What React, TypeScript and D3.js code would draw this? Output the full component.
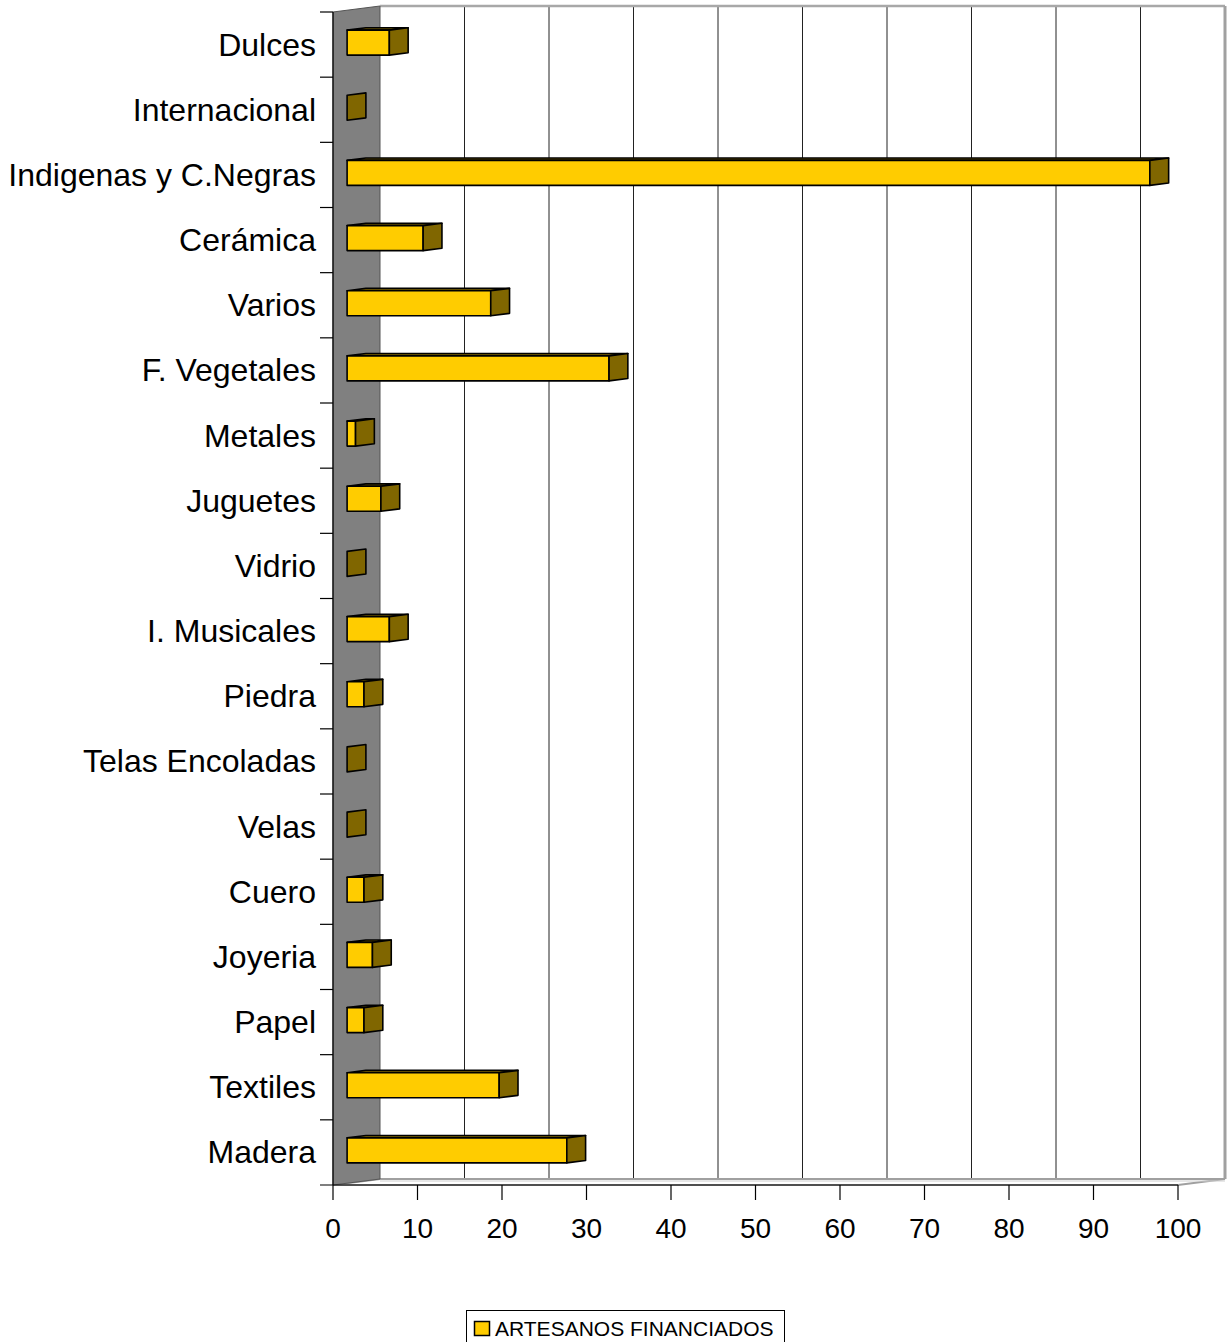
import React from 'react';
import * as d3 from 'd3';

const categories = [
  'Dulces', 'Internacional', 'Indigenas y C.Negras', 'Cerámica', 'Varios',
  'F. Vegetales', 'Metales', 'Juguetes', 'Vidrio', 'I. Musicales', 'Piedra',
  'Telas Encoladas', 'Velas', 'Cuero', 'Joyeria', 'Papel', 'Textiles', 'Madera',
];
const artesanos = [5, 0, 95, 9, 17, 31, 1, 4, 0, 5, 2, 0, 0, 2, 3, 2, 18, 26];
const xTicks = [0, 10, 20, 30, 40, 50, 60, 70, 80, 90, 100];
const seriesName = 'ARTESANOS FINANCIADOS';

const W = 1228;
const H = 1342;
const YELLOW = '#FFCC00';
const DARK = '#806600';
const WALL = '#808080';

// 3D offsets: full depth of the plot box
const DEPTH_X = 47;
const DEPTH_Y = -6;

const App: React.FC = () => {
  const x = d3.scaleLinear().domain([0, 100]).range([333, 1178]);
  const y = d3.scaleBand<string>().domain(categories).range([12, 1185]);

  const px = (v: number, t: number) => x(v) + DEPTH_X * t;
  const py = (yy: number, t: number) => yy + DEPTH_Y * t;

  const top = 12;
  const bottom = 1185;
  const back = (v: number) => px(v, 1);

  const pts = (p: [number, number][]) => p.map(d => d.join(',')).join(' ');

  const t0 = 0.3;
  const t1 = 0.7;
  const barH = 25;
  const font = 'Arial, "Liberation Sans", Helvetica, sans-serif';

  return (
    <svg width={W} height={H} viewBox={`0 0 ${W} ${H}`}
      style={{ position: 'absolute', left: 0, top: 0, background: '#fff' }}>
      {/* back wall */}
      <rect x={back(0)} y={py(top, 1)} width={back(100) - back(0)} height={py(bottom, 1) - py(top, 1)} fill="#fff" />
      {xTicks.slice(1, -1).map(v => (
        <line key={v} x1={back(v)} x2={back(v)} y1={py(top, 1)} y2={py(bottom, 1)} stroke="#222" strokeWidth={1} />
      ))}
      <line x1={back(0)} x2={back(100)} y1={py(top, 1)} y2={py(top, 1)} stroke="#a8a8a8" strokeWidth={2.5} />
      <line x1={back(100)} x2={back(100)} y1={py(top, 1)} y2={py(bottom, 1)} stroke="#a0a0a0" strokeWidth={3} />

      {/* floor */}
      <polygon
        points={pts([[x(0), bottom], [back(0), py(bottom, 1)], [back(100), py(bottom, 1)], [x(100), bottom]])}
        fill="#fff" stroke="#a0a0a0" strokeWidth={2} />
      <line x1={back(0)} x2={back(100)} y1={py(bottom, 1) + 2} y2={py(bottom, 1) + 2} stroke="#d0d0d0" strokeWidth={1} />

      {/* side wall */}
      <polygon
        points={pts([[x(0), top], [back(0), py(top, 1)], [back(0), py(bottom, 1)], [x(0), bottom]])}
        fill={WALL} stroke="#555" strokeWidth={1} />

      {/* bars */}
      {categories.map((c, i) => {
        const v = artesanos[i];
        const cy = (y(c) || 0) + y.bandwidth() / 2 - 2;
        const yt = cy - barH / 2;
        const yb = cy + barH / 2;
        const fx0 = px(0, t0);
        const fx1 = px(v, t0);
        const bx0 = px(0, t1);
        const bx1 = px(v, t1);
        const dy = DEPTH_Y * (t1 - t0);
        return (
          <g key={c} stroke="#000" strokeWidth={1.6} strokeLinejoin="round">
            {v > 0 && (
              <polygon points={pts([[fx0, yt], [bx0, yt + dy], [bx1, yt + dy], [fx1, yt]])} fill={DARK} />
            )}
            {v > 0 && <rect x={fx0} y={yt} width={fx1 - fx0} height={barH} fill={YELLOW} />}
            <polygon points={pts([[fx1, yt], [bx1, yt + dy], [bx1, yb + dy], [fx1, yb]])} fill={DARK} />
          </g>
        );
      })}

      {/* axes */}
      <line x1={x(0)} x2={x(0)} y1={top} y2={bottom} stroke="#000" strokeWidth={1.2} />
      <line x1={320} x2={x(100)} y1={bottom} y2={bottom} stroke="#000" strokeWidth={1.2} />
      {categories.map(c => (
        <line key={c} x1={320} x2={x(0)} y1={y(c)} y2={y(c)} stroke="#000" strokeWidth={1.2} />
      ))}
      {xTicks.map(v => (
        <g key={v}>
          <line x1={x(v)} x2={x(v)} y1={bottom} y2={bottom + 15} stroke="#000" strokeWidth={1.2} />
          <text x={x(v)} y={bottom + 53} textAnchor="middle" fontFamily={font} fontSize={28} fill="#000">{v}</text>
        </g>
      ))}
      {categories.map(c => (
        <text key={c} x={316} y={(y(c) || 0) + y.bandwidth() / 2 + 11} textAnchor="end"
          fontFamily={font} fontSize={32} fill="#000">{c}</text>
      ))}

      {/* legend */}
      <rect x={466.5} y={1310.5} width={318} height={40} fill="#fff" stroke="#000" strokeWidth={1} />
      <rect x={474.5} y={1321.5} width={15} height={14} fill={YELLOW} stroke="#000" strokeWidth={1.5} />
      <text x={495} y={1336} fontFamily={font} fontSize={21} fill="#000">{seriesName}</text>
    </svg>
  );
};

export default App;
